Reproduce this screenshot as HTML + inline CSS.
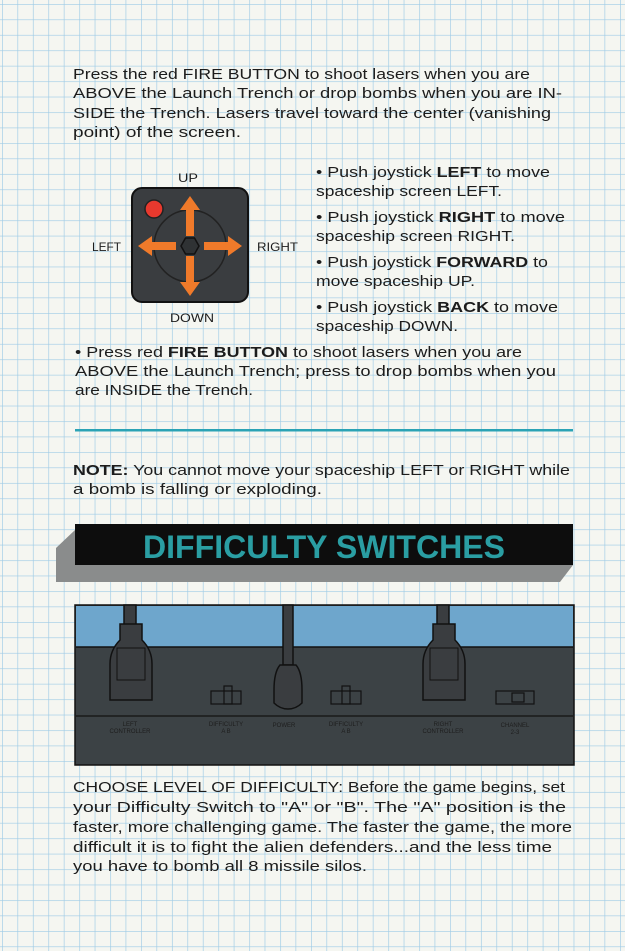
<!DOCTYPE html>
<html><head><meta charset="utf-8"><style>
html,body{margin:0;padding:0;background:#f5f6f1}
svg{display:block}
text{font-family:"Liberation Sans",sans-serif;fill:#1c1c1c}
</style></head><body>
<svg width="625" height="951" viewBox="0 0 625 951" font-size="15">
<defs>
<pattern id="grid" width="15.45" height="15.45" patternUnits="userSpaceOnUse" x="2" y="4">
<rect width="15.45" height="15.45" fill="#f5f6f1"/>
<path d="M0 0H15.45M0 0V15.45" stroke="#9ecbe6" stroke-width="1.3" fill="none"/>
</pattern>
</defs>
<rect width="625" height="951" fill="url(#grid)"/>

<g>
<text x="73" y="79" textLength="457" lengthAdjust="spacingAndGlyphs">Press the red FIRE BUTTON to shoot lasers when you are</text>
<text x="73" y="98" textLength="489" lengthAdjust="spacingAndGlyphs">ABOVE the Launch Trench or drop bombs when you are IN-</text>
<text x="73" y="118" textLength="478" lengthAdjust="spacingAndGlyphs">SIDE the Trench. Lasers travel toward the center (vanishing</text>
<text x="73" y="137" textLength="168" lengthAdjust="spacingAndGlyphs">point) of the screen.</text>
</g>

<g>
<text x="178" y="182" style="font-size:12px" textLength="20" lengthAdjust="spacingAndGlyphs">UP</text>
<text x="92" y="251" style="font-size:12px" textLength="29" lengthAdjust="spacingAndGlyphs">LEFT</text>
<text x="257" y="251" style="font-size:12px" textLength="41" lengthAdjust="spacingAndGlyphs">RIGHT</text>
<text x="170" y="322" style="font-size:12px" textLength="44" lengthAdjust="spacingAndGlyphs">DOWN</text>
<rect x="132" y="188" width="116" height="114" rx="10" fill="#3a3d40" stroke="#111" stroke-width="2"/>
<circle cx="190" cy="246" r="36" fill="none" stroke="#222" stroke-width="1.5"/>
<circle cx="154" cy="209" r="9" fill="#e8392e" stroke="#222" stroke-width="1.5"/>
<polygon points="181,246 185.5,238 194.5,238 199,246 194.5,254 185.5,254" fill="#2f3234" stroke="#111" stroke-width="1.5"/>
<g fill="#f07a2a">
<polygon points="186,236 186,210 180,210 190,196 200,210 194,210 194,236"/>
<polygon points="186,256 186,282 180,282 190,296 200,282 194,282 194,256"/>
<polygon points="176,242 152,242 152,236 138,246 152,256 152,250 176,250"/>
<polygon points="204,242 228,242 228,236 242,246 228,256 228,250 204,250"/>
</g>
</g>

<g>
<text x="316" y="177" textLength="234" lengthAdjust="spacingAndGlyphs">• Push joystick <tspan font-weight="bold">LEFT</tspan> to move</text>
<text x="316" y="196" textLength="186" lengthAdjust="spacingAndGlyphs">spaceship screen LEFT.</text>
<text x="316" y="222" textLength="249" lengthAdjust="spacingAndGlyphs">• Push joystick <tspan font-weight="bold">RIGHT</tspan> to move</text>
<text x="316" y="241" textLength="199" lengthAdjust="spacingAndGlyphs">spaceship screen RIGHT.</text>
<text x="316" y="267" textLength="232" lengthAdjust="spacingAndGlyphs">• Push joystick <tspan font-weight="bold">FORWARD</tspan> to</text>
<text x="316" y="286" textLength="159" lengthAdjust="spacingAndGlyphs">move spaceship UP.</text>
<text x="316" y="312" textLength="242" lengthAdjust="spacingAndGlyphs">• Push joystick <tspan font-weight="bold">BACK</tspan> to move</text>
<text x="316" y="331" textLength="142" lengthAdjust="spacingAndGlyphs">spaceship DOWN.</text>
</g>

<g>
<text x="75" y="357" textLength="447" lengthAdjust="spacingAndGlyphs">• Press red <tspan font-weight="bold">FIRE BUTTON</tspan> to shoot lasers when you are</text>
<text x="75" y="376" textLength="481" lengthAdjust="spacingAndGlyphs">ABOVE the Launch Trench; press to drop bombs when you</text>
<text x="75" y="395" textLength="178" lengthAdjust="spacingAndGlyphs">are INSIDE the Trench.</text>
</g>

<rect x="75" y="429" width="498" height="2.5" fill="#2aa3b5"/>

<g>
<text x="73" y="475" textLength="497" lengthAdjust="spacingAndGlyphs"><tspan font-weight="bold">NOTE:</tspan> You cannot move your spaceship LEFT or RIGHT while</text>
<text x="73" y="494" textLength="249" lengthAdjust="spacingAndGlyphs">a bomb is falling or exploding.</text>
</g>

<g>
<polygon points="75,530 56,548 56,582 560,582 573,565 75,565" fill="#8a8c8c"/>
<rect x="75" y="524" width="498" height="41" fill="#0d0d0d"/>
<text x="324" y="558" text-anchor="middle" style="font-size:32px;font-weight:bold;fill:#2a9ea3" textLength="362" lengthAdjust="spacingAndGlyphs">DIFFICULTY SWITCHES</text>
</g>

<g>
<rect x="75" y="605" width="499" height="160" fill="#3c4245" stroke="#111" stroke-width="1.5"/>
<rect x="76" y="606" width="497" height="41" fill="#6ea6cc"/>
<line x1="76" y1="647" x2="573" y2="647" stroke="#111" stroke-width="1.5"/>
<line x1="76" y1="716" x2="573" y2="716" stroke="#1a1a1a" stroke-width="1.5"/>
<g stroke="#111" stroke-width="1.5">
<rect x="124" y="605" width="12" height="20" fill="#3a3d40"/>
<path d="M120 624 H142 V640 Q152 650 152 664 V700 H110 V664 Q110 650 120 640 Z" fill="#3a3d40"/>
<rect x="117" y="648" width="28" height="32" fill="none" stroke-width="1"/>
</g>
<g stroke="#111" stroke-width="1.5">
<rect x="437" y="605" width="12" height="20" fill="#3a3d40"/>
<path d="M433 624 H455 V640 Q465 650 465 664 V700 H423 V664 Q423 650 433 640 Z" fill="#3a3d40"/>
<rect x="430" y="648" width="28" height="32" fill="none" stroke-width="1"/>
</g>
<g stroke="#111" stroke-width="1.5" fill="#3a3d40">
<rect x="283" y="605" width="10" height="60"/>
<path d="M280 665 H296 Q302 672 302 690 V703 Q296 709 288 709 Q280 709 274 703 V690 Q274 672 280 665 Z"/>
</g>
<g fill="none" stroke="#111" stroke-width="1.2">
<rect x="211" y="691" width="30" height="13"/><rect x="224" y="686" width="8" height="18"/>
</g>
<g fill="none" stroke="#111" stroke-width="1.2">
<rect x="331" y="691" width="30" height="13"/><rect x="342" y="686" width="8" height="18"/>
</g>
<g fill="none" stroke="#111" stroke-width="1.2">
<rect x="496" y="691" width="38" height="13"/><rect x="512" y="693" width="12" height="9"/>
</g>
<g>
<text x="130" y="726" text-anchor="middle" style="font-size:6px;fill:#1e1e1e">LEFT</text>
<text x="130" y="733" text-anchor="middle" style="font-size:6px;fill:#1e1e1e">CONTROLLER</text>
<text x="226" y="726" text-anchor="middle" style="font-size:6px;fill:#1e1e1e">DIFFICULTY</text>
<text x="226" y="733" text-anchor="middle" style="font-size:6px;fill:#1e1e1e">A          B</text>
<text x="284" y="727" text-anchor="middle" style="font-size:6px;fill:#1e1e1e">POWER</text>
<text x="346" y="726" text-anchor="middle" style="font-size:6px;fill:#1e1e1e">DIFFICULTY</text>
<text x="346" y="733" text-anchor="middle" style="font-size:6px;fill:#1e1e1e">A          B</text>
<text x="443" y="726" text-anchor="middle" style="font-size:6px;fill:#1e1e1e">RIGHT</text>
<text x="443" y="733" text-anchor="middle" style="font-size:6px;fill:#1e1e1e">CONTROLLER</text>
<text x="515" y="727" text-anchor="middle" style="font-size:6px;fill:#1e1e1e">CHANNEL</text>
<text x="515" y="734" text-anchor="middle" style="font-size:6px;fill:#1e1e1e">2-3</text>
</g>
</g>

<g>
<text x="73" y="792" textLength="492" lengthAdjust="spacingAndGlyphs">CHOOSE LEVEL OF DIFFICULTY: Before the game begins, set</text>
<text x="73" y="812" textLength="493" lengthAdjust="spacingAndGlyphs">your Difficulty Switch to "A" or "B". The "A" position is the</text>
<text x="73" y="832" textLength="499" lengthAdjust="spacingAndGlyphs">faster, more challenging game. The faster the game, the more</text>
<text x="73" y="852" textLength="479" lengthAdjust="spacingAndGlyphs">difficult it is to fight the alien defenders...and the less time</text>
<text x="73" y="871" textLength="294" lengthAdjust="spacingAndGlyphs">you have to bomb all 8 missile silos.</text>
</g>
</svg>
</body></html>
